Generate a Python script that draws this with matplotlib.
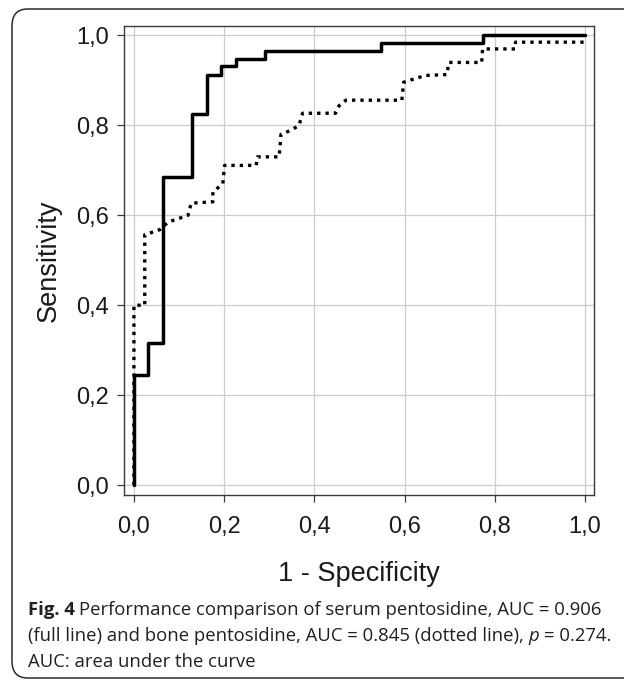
import matplotlib
matplotlib.use("Agg")
import matplotlib.pyplot as plt
from matplotlib.patches import FancyBboxPatch
from matplotlib.ticker import FuncFormatter

# ROC curve vertices
serum_fpr = [0.0, 0.0, 0.031, 0.031, 0.064, 0.064, 0.129, 0.129, 0.161, 0.161,
             0.194, 0.194, 0.226, 0.226, 0.290, 0.290, 0.548, 0.548, 0.774, 0.774, 1.0]
serum_tpr = [0.0, 0.245, 0.245, 0.315, 0.315, 0.685, 0.685, 0.825, 0.825, 0.913,
             0.913, 0.931, 0.931, 0.948, 0.948, 0.965, 0.965, 0.983, 0.983, 1.0, 1.0]

bone_fpr = [0.0, 0.0, 0.024, 0.024, 0.043, 0.057, 0.076, 0.120, 0.127, 0.175,
            0.175, 0.197, 0.201, 0.271, 0.274, 0.322, 0.326, 0.348, 0.366, 0.374,
            0.447, 0.455, 0.470, 0.594, 0.598, 0.646, 0.694, 0.698, 0.771, 0.773,
            0.845, 0.846, 1.0]
bone_tpr = [0.0, 0.400, 0.400, 0.557, 0.563, 0.568, 0.585, 0.600, 0.627, 0.630,
            0.652, 0.670, 0.711, 0.711, 0.730, 0.730, 0.780, 0.789, 0.800, 0.827,
            0.827, 0.844, 0.856, 0.856, 0.896, 0.911, 0.913, 0.940, 0.940, 0.970,
            0.970, 0.985, 0.985]

ticks = [0.0, 0.2, 0.4, 0.6, 0.8, 1.0]

caption_lines = [
    [("Fig. 4", "bold", "normal"),
     (" Performance comparison of serum pentosidine, AUC = 0.906", "normal", "normal")],
    [("(full line) and bone pentosidine, AUC = 0.845 (dotted line), ", "normal", "normal"),
     ("p", "normal", "italic"),
     (" = 0.274.", "normal", "normal")],
    [("AUC: area under the curve", "normal", "normal")],
]

W, H = 624, 680
fig = plt.figure(figsize=(W / 100, H / 100), dpi=100)
sans = ["Liberation Sans", "DejaVu Sans"]

# rounded frame round the whole figure (right side runs off the page)
box = FancyBboxPatch((12 / W, 2 / H), 700 / W, 669 / H,
                     boxstyle="round,pad=0,rounding_size=0.025",
                     transform=fig.transFigure, fill=False,
                     edgecolor="#2b2b2b", linewidth=1.1)
fig.patches.append(box)

ax = fig.add_axes([124 / W, 185 / H, 470 / W, 469 / H])
ax.plot(serum_fpr, serum_tpr, color="black", linewidth=2.5,
        solid_capstyle="round", zorder=3)
ax.plot(bone_fpr, bone_tpr, color="black", linewidth=2.4,
        linestyle=(0, (1, 1.5)), zorder=2)

ax.set_xlim(-0.022, 1.02)
ax.set_ylim(-0.022, 1.021)
ax.set_xticks(ticks)
ax.set_yticks(ticks)
fmt = FuncFormatter(lambda v, pos: "{:.1f}".format(v).replace(".", ","))
ax.xaxis.set_major_formatter(fmt)
ax.yaxis.set_major_formatter(fmt)
ax.grid(True, color="#cccccc", linewidth=0.9)
ax.set_axisbelow(True)
for sp in ax.spines.values():
    sp.set_color("#3a3a3a")
    sp.set_linewidth(1.0)
ax.tick_params(direction="out", length=5, width=0.9, color="#3a3a3a",
               labelsize=17, labelcolor="#1a1a1a")
ax.tick_params(axis="x", pad=10)
ax.tick_params(axis="y", pad=6)
for lab in ax.get_xticklabels() + ax.get_yticklabels():
    lab.set_family(sans)

ax.set_xlabel("1 - Specificity", fontsize=19.5, family=sans,
              color="#1a1a1a", labelpad=17)
ax.set_ylabel("Sensitivity", fontsize=19.5, family=sans,
              color="#1a1a1a", labelpad=10)

# caption, built piece by piece so bold / italic parts sit inline
fig.canvas.draw()
renderer = fig.canvas.get_renderer()
baselines = [615, 641, 667]
space = 4.6
for line, yb in zip(caption_lines, baselines):
    x = 28.0
    for txt, weight, style in line:
        if txt.startswith(" "):
            x += space
        t = fig.text(x / W, 1 - yb / H, txt.strip(" "), fontsize=13.3,
                     family=["Open Sans", "DejaVu Sans"], fontweight=weight,
                     fontstyle=style, color="#231f20", va="baseline", ha="left")
        bb = t.get_window_extent(renderer)
        x += bb.width + (space if txt.endswith(" ") else 0)

fig.savefig("out.png", dpi=100)
